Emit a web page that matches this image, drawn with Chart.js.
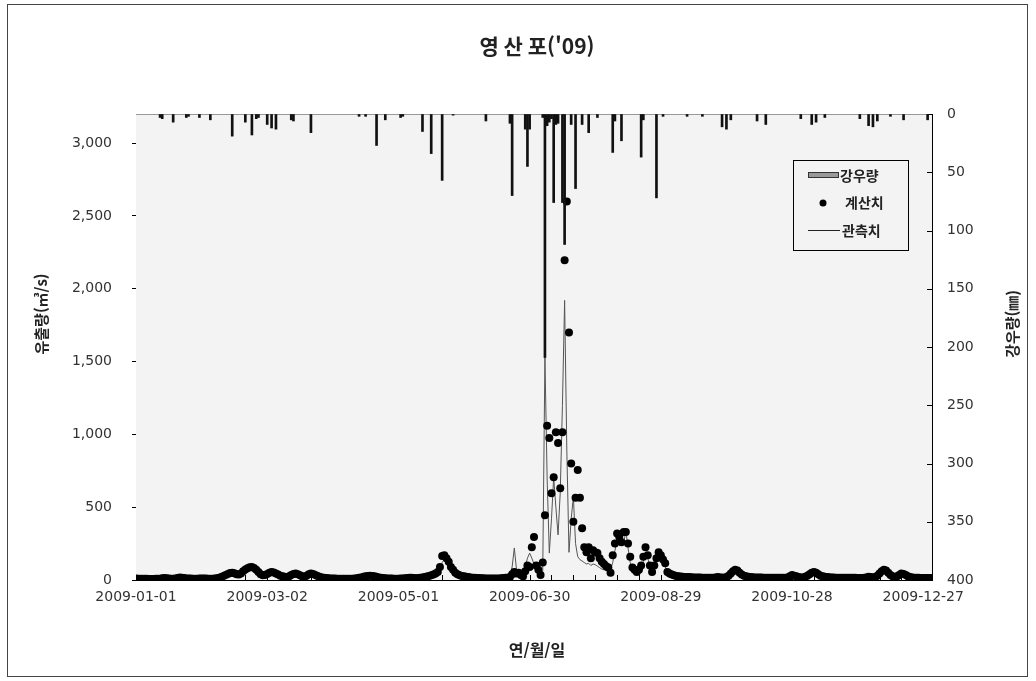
<!DOCTYPE html>
<html lang="ko">
<head>
<meta charset="utf-8">
<script src="https://cdn.jsdelivr.net/npm/chart.js@4.4.1/dist/chart.umd.min.js"></script>
<style>
  body { margin: 0; background: #fff; }
  #wrap { width: 1036px; height: 681px; }
</style>
</head>
<body>
<div id="wrap"><canvas id="flowChart" width="1036" height="681"></canvas></div>
<script>
// 영산포 2009 daily runoff (계산치 / 관측치, ㎥/s) and rainfall (㎜)
// day index 0 = 2009-01-01
const dateTicks = ['2009-01-01', '2009-03-02', '2009-05-01', '2009-06-30', '2009-08-29', '2009-10-28', '2009-12-27'];
const dateTickDays = [0, 60, 120, 180, 240, 300, 360];
const flowTicks = [0, 500, 1000, 1500, 2000, 2500, 3000];
const rainTicks = [0, 50, 100, 150, 200, 250, 300, 350, 400];

const calc = [
  10,9,9,8,8,8,7,7,7,8, 8,9,12,14,12,10,9,9,10,14, 18,16,13,11,10,10,9,9,9,10,
  11,10,10,9,9,9,10,12,15,20, 28,35,42,48,50,46,40,38,45,60, 72,80,88,90,82,70,55,40,32,35,
  42,50,55,52,45,38,30,25,22,20, 25,35,42,45,40,32,25,22,30,40, 45,42,35,28,22,18,15,13,12,11,
  10,10,9,9,9,8,8,8,8,9, 10,12,15,18,22,25,28,30,28,25, 22,18,15,13,12,11,10,10,9,9,
  9,10,11,12,14,16,15,13,12,14, 15,18,20,24,28,32,38,45,55,90, 165,170,150,125,90,70,50,40,32,28,
  25,22,20,18,16,15,14,13,12,12, 11,11,10,10,10,10,11,12,14,16, 15,20,40,55,45,50,35,25,60,100,
  90,225,295,100,70,35,120,445,1060,975, 595,705,1015,940,630,1015,2195,2600,1700,800,
  400,565,755,565,355,225,190,225,150,205, 190,185,150,125,110,95,85,50,170,250,
  320,295,260,330,330,250,160,85,70,55, 70,100,160,225,170,100,55,100,150,190,
  170,140,115,55,45,38,32,28,25,24, 22,21,20,20,19,18,18,17,17,16, 16,16,15,15,16,18,20,18,17,16,
  20,30,45,60,70,65,50,38,30,25, 22,20,19,18,18,17,17,16,16,16, 15,15,15,15,16,16,15,15,18,25,
  35,30,25,20,18,18,22,30,40,50, 55,50,40,30,25,22,20,19,18,17, 16,16,16,15,15,15,15,15,15,15,
  14,14,14,15,18,22,20,18,20,30, 45,60,70,65,50,35,25,20,25,35, 45,42,35,25,20,18,16,15,15,14,
  14,14,14,14,14
];

const obs = [
  8,8,7,7,7,6,6,6,6,7, 7,8,10,12,10,9,8,8,9,12, 15,13,11,10,9,9,8,8,8,9,
  10,9,9,8,8,8,9,10,13,17, 24,30,36,42,44,40,35,33,40,52, 62,70,78,80,72,60,48,35,28,30,
  36,44,48,46,40,33,26,22,19,17, 22,30,37,40,35,28,22,19,26,35, 40,37,30,24,19,16,13,12,11,10,
  9,9,8,8,8,7,7,7,7,8, 9,10,13,16,19,22,25,26,24,22, 19,16,13,12,11,10,9,9,8,8,
  8,9,10,11,12,14,13,12,11,12, 13,15,17,20,24,28,32,38,46,70, 120,140,125,100,75,58,42,34,28,24,
  21,19,17,15,14,13,12,11,10,10, 10,10,9,9,9,9,10,11,12,14, 14,30,90,220,70,35,30,45,90,150,
  185,150,110,75,55,45,60,1530,700,185, 420,705,500,310,600,1200,1920,900,190,420,
  570,250,160,140,130,120,110,115,100,110, 105,95,85,75,70,65,60,70,120,200,
  280,340,300,250,340,220,120,80,70,65, 75,90,130,185,150,100,85,110,160,185,
  160,120,90,60,45,38,32,28,25,23, 21,20,19,19,18,17,17,16,16,15, 15,15,14,14,15,16,18,17,16,15,
  18,26,40,55,62,58,45,34,27,22, 20,19,18,17,17,16,16,15,15,15, 14,14,14,14,15,15,14,14,16,22,
  30,27,22,18,17,17,20,27,36,45, 50,45,36,27,22,20,18,17,16,16, 15,15,15,14,14,14,14,14,14,14,
  13,13,13,14,16,20,18,16,18,27, 40,55,62,58,45,32,22,18,22,32, 40,38,30,22,18,16,15,14,14,13,
  13,13,13,13,13
];

const rainDay = [11,12,17,23,24,29,34,44,50,53,55,56,60,62,64,71,72,80,102,105,110,114,121,122,
  131,135,140,145,160,171,172,178,179,180,186,187,188,189,190,191,192,193,195,196,199,201,204,207,211,
  218,219,222,231,232,238,241,252,259,268,270,272,284,288,304,309,311,315,331,335,337,339,345,351,362];
const rainMm = [3,4,7,3,2,3,5,19,7,18,4,3,9,12,13,5,6,16,2,2,27,5,3,2,
  15,34,57,1,6,8,70,13,45,13,3,209,10,7,4,76,9,8,76,112,9,64,9,16,3,
  33,6,23,37,5,72,2,2,2,11,13,5,6,9,4,9,7,3,4,10,11,6,2,5,5];

const KR = '"Noto Sans CJK KR", "DejaVu Sans", sans-serif';
const TICK_FONT = { family: 'DejaVu Sans', size: 14 };
const asTicks = list => list.map(v => ({ value: v }));

// plot fill, outer frame, inward tick marks, titles and legend box
const decorations = {
  id: 'decorations',
  beforeDatasetsDraw(chart) {
    const { ctx, chartArea: a, scales } = chart;
    ctx.save();
    ctx.fillStyle = '#f3f3f3';
    ctx.fillRect(a.left, a.top, a.right - a.left, a.bottom - a.top);
    ctx.strokeStyle = '#999';
    ctx.lineWidth = 1;
    ctx.beginPath();
    ctx.moveTo(a.left, a.top + 0.5);
    ctx.lineTo(a.right, a.top + 0.5);
    ctx.stroke();

    // minor ticks every 10 days, pointing into the plot
    ctx.strokeStyle = '#000';
    ctx.beginPath();
    for (let d = 10; d < 364; d += 10) {
      const px = Math.round(scales.x.getPixelForValue(d)) + 0.5;
      ctx.moveTo(px, a.bottom);
      ctx.lineTo(px, a.bottom - 5);
    }
    // rainfall axis ticks, also inward
    scales.y2.ticks.forEach(t => {
      const py = Math.round(scales.y2.getPixelForValue(t.value)) + 0.5;
      ctx.moveTo(a.right - 5, py);
      ctx.lineTo(a.right, py);
    });
    ctx.stroke();
    ctx.restore();
  },
  afterDraw(chart) {
    const { ctx } = chart;
    ctx.save();
    ctx.strokeStyle = '#444';
    ctx.lineWidth = 1;
    ctx.strokeRect(7.5, 4.5, 1020, 672);

    ctx.fillStyle = '#222';
    ctx.textAlign = 'center';
    ctx.textBaseline = 'middle';
    ctx.font = 'bold 21px ' + KR;
    ctx.fillText("영 산 포('09)", 537, 46);
    ctx.font = 'bold 16px ' + KR;
    ctx.fillText('연/월/일', 537, 650);

    ctx.font = 'bold 15px ' + KR;
    ctx.translate(41, 314);
    ctx.rotate(-Math.PI / 2);
    ctx.fillText('유출량(㎥/s)', 0, 0);
    ctx.setTransform(1, 0, 0, 1, 0, 0);
    ctx.translate(1012, 324);
    ctx.rotate(-Math.PI / 2);
    ctx.fillText('강우량(㎜)', 0, 0);
    ctx.setTransform(1, 0, 0, 1, 0, 0);

    // legend
    ctx.fillStyle = '#f3f3f3';
    ctx.fillRect(794, 161, 114, 89);
    ctx.strokeStyle = '#000';
    ctx.strokeRect(793.5, 160.5, 115, 90);
    ctx.fillStyle = '#999';
    ctx.fillRect(808, 172, 31, 6);
    ctx.strokeStyle = '#333';
    ctx.strokeRect(808.5, 172.5, 30, 5);
    ctx.fillStyle = '#000';
    ctx.beginPath();
    ctx.arc(823, 203, 3.5, 0, Math.PI * 2);
    ctx.fill();
    ctx.strokeStyle = '#222';
    ctx.beginPath();
    ctx.moveTo(808, 230.5);
    ctx.lineTo(840, 230.5);
    ctx.stroke();
    ctx.fillStyle = '#222';
    ctx.textAlign = 'left';
    ctx.font = 'bold 14px ' + KR;
    ctx.fillText('강우량', 840, 176);
    ctx.fillText('계산치', 845, 203);
    ctx.fillText('관측치', 842, 231);
    ctx.restore();
  }
};

const ctx = document.getElementById('flowChart').getContext('2d');
new Chart(ctx, {
  type: 'line',
  data: {
    datasets: [
      {
        label: '강우량',
        type: 'bar',
        data: rainDay.map((d, i) => ({ x: d, y: rainMm[i] })),
        yAxisID: 'y2',
        backgroundColor: '#111',
        borderWidth: 0,
        barThickness: 2,
        order: 1
      },
      {
        label: '계산치',
        data: calc.map((v, i) => ({ x: i, y: v })),
        yAxisID: 'y',
        showLine: false,
        pointRadius: 4,
        pointBackgroundColor: '#000',
        pointBorderWidth: 0,
        order: 2
      },
      {
        label: '관측치',
        data: obs.map((v, i) => ({ x: i, y: v })),
        yAxisID: 'y',
        borderColor: '#555',
        borderWidth: 1,
        pointRadius: 0,
        tension: 0,
        order: 3
      }
    ]
  },
  options: {
    responsive: false,
    animation: false,
    devicePixelRatio: 1,
    layout: { padding: { top: 114, left: 0, right: 0, bottom: 0 } },
    plugins: {
      legend: { display: false },
      tooltip: { enabled: false },
      title: { display: false }
    },
    scales: {
      x: {
        type: 'linear',
        min: 0,
        max: 364,
        offset: false,
        afterBuildTicks: s => { s.ticks = asTicks(dateTickDays); },
        afterFit: s => { s.height = 101; },
        border: { display: true, color: '#000', width: 1 },
        grid: { display: true, offset: false, drawOnChartArea: false, drawTicks: false },
        ticks: {
          autoSkip: false,
          maxRotation: 0,
          padding: 9,
          color: '#333',
          font: TICK_FONT,
          callback: v => dateTicks[dateTickDays.indexOf(v)]
        }
      },
      y: {
        position: 'left',
        min: 0,
        max: 3200,
        afterBuildTicks: s => { s.ticks = asTicks(flowTicks); },
        afterFit: s => { s.width = 136; },
        border: { display: true, color: '#000', width: 1 },
        grid: { drawOnChartArea: false, drawTicks: true, tickLength: 4, color: '#000' },
        ticks: {
          autoSkip: false,
          padding: 20,
          color: '#333',
          font: TICK_FONT,
          callback: v => v.toLocaleString('en-US')
        }
      },
      y2: {
        position: 'right',
        reverse: true,
        min: 0,
        max: 400,
        afterBuildTicks: s => { s.ticks = asTicks(rainTicks); },
        afterFit: s => { s.width = 104; },
        border: { display: true, color: '#000', width: 1 },
        grid: { drawOnChartArea: false, drawTicks: false },
        ticks: {
          autoSkip: false,
          padding: 15,
          color: '#333',
          font: TICK_FONT
        }
      }
    }
  },
  plugins: [decorations]
});
</script>
</body>
</html>
